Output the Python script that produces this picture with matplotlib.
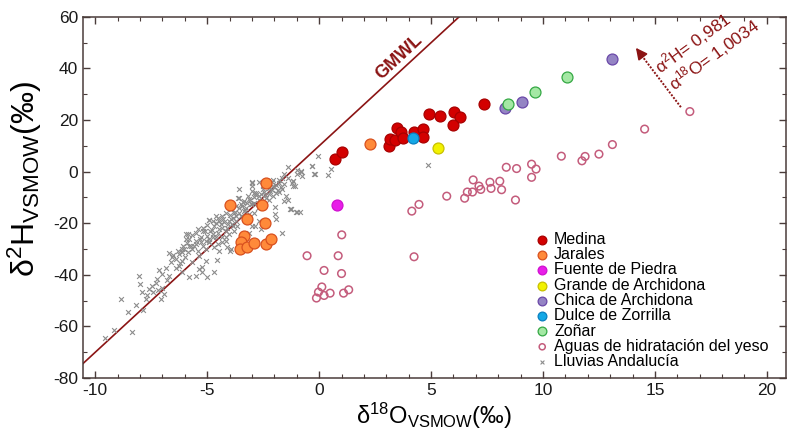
import numpy as np
import matplotlib
matplotlib.use("Agg")
import matplotlib.pyplot as plt
from matplotlib.ticker import MultipleLocator

plt.rcParams['font.family'] = ['Liberation Sans', 'DejaVu Sans']
plt.rcParams['mathtext.fontset'] = 'custom'
plt.rcParams['mathtext.rm'] = 'Liberation Sans'
plt.rcParams['mathtext.it'] = 'Liberation Sans:italic'
plt.rcParams['axes.unicode_minus'] = False

# delta18O, delta2H for each group
medina_x = [0.73, 1.03, 3.11, 3.16, 3.39, 3.47, 3.66, 3.75, 4.24, 4.64, 4.66,
            4.93, 5.39, 6.01, 6.29, 6.00, 7.38]
medina_y = [4.9, 7.7, 10.0, 12.7, 12.3, 16.8, 15.3, 13.2, 15.4, 16.5, 13.3,
            22.3, 21.7, 23.3, 21.3, 18.1, 26.4]

jarales_x = [2.26, -2.38, -3.96, -2.56, -3.24, -2.40, -3.36, -3.47, -3.54,
             -3.21, -2.90, -2.37, -2.13]
jarales_y = [10.6, -4.5, -13.1, -12.8, -18.5, -19.9, -24.9, -27.4, -30.0,
             -29.2, -27.8, -28.2, -26.3]

fuente_x = [0.82]
fuente_y = [-12.8]

grande_x = [5.33]
grande_y = [9.0]

chica_x = [8.29, 9.06, 13.1]
chica_y = [24.5, 26.9, 43.8]

dulce_x = [4.18]
dulce_y = [13.2]

zonar_x = [8.44, 9.66, 11.09]
zonar_y = [26.3, 31.0, 36.7]

yeso_x = [1.01, -0.54, 0.85, 0.22, 1.00, 0.12, -0.03, -0.12, 0.22, 0.49, 1.09,
          1.32, 4.14, 4.46, 4.24, 5.70, 6.50, 6.62, 6.88, 6.85, 7.14, 7.22,
          7.63, 7.68, 8.07, 8.15, 8.36, 8.82, 8.77, 9.49, 9.69, 9.49, 10.82,
          11.74, 11.88, 12.50, 13.10, 14.54, 16.56]
yeso_y = [-24.5, -32.6, -32.6, -38.3, -39.5, -44.7, -46.7, -49.0, -48.0, -47.1,
          -47.1, -45.8, -15.3, -12.7, -33.0, -9.5, -10.3, -7.9, -3.2, -7.9,
          -5.6, -6.9, -4.1, -6.5, -3.7, -7.0, 1.7, 1.2, -11.0, 2.9, 1.0, -2.2,
          6.0, 4.2, 5.9, 6.8, 10.5, 16.5, 23.3]

lluvia_x = [-0.07, -0.33, -0.19, 0.55, 0.40, -1.37, -0.97, -0.83, -0.78, -1.15,
            -1.07, -1.56, -1.64, -1.79, -1.93, -2.11, -2.26, -2.98, -2.68, -2.90,
            -2.80, -3.12, -3.24, -3.45, -3.60, -1.49, -1.37, -1.56, -1.29, -1.04,
            -0.86, -1.96, -1.96, -1.93, -1.85, -2.68, -2.98, -2.86, -2.61, -1.67,
            -3.12, -3.75, -3.87, -4.02, -4.24, -4.46, -4.61, -4.94, -4.69, -4.46,
            -4.88, -5.21, -5.28, -5.51, -5.88, -5.80, -5.73, -6.03, -6.13, -4.76,
            -4.32, -4.17, -3.94, -4.54, -4.91, -5.21, -5.43, -5.06, -4.46, -0.83,
            -0.34, -0.21, -2.99, -0.98, -1.27, -4.92, -3.61, -3.96, -4.55, -4.70,
            -4.99, -5.37, -5.67, -5.81, -5.96, -6.71, -6.56, -6.26, -6.11, -6.41,
            -6.86, -7.00, -7.15, -6.71, -7.23, -7.45, -7.18, -7.00, -6.93, -7.08,
            -7.43, -7.68, -7.75, -7.90, -8.05, -8.00, -8.20, -8.56, -8.84, -9.17,
            -9.57, -8.35, -7.86, -6.64, -6.26, -6.11, -5.81, -5.22, -5.52, -6.11,
            -5.37, -5.07, -4.92, -4.70, -4.32, -4.17, -4.10, -5.25, 4.87, -1.16,
            -1.16, -1.26, -2.98, -2.83, -2.60, -2.46, -2.23, -2.08, -1.93, -1.79,
            -2.38, -2.68, -2.90, -3.05, -3.27, -3.35, -3.57, -3.72, -3.50, -3.94,
            -4.09, -4.32, -4.17, -4.54, -4.76, -4.99, -5.06, -5.28, -5.51, -5.66,
            -5.88, -4.61, -4.02, -3.80, -3.65, -3.87, -3.12, -2.90, -2.75, -2.53,
            -2.23, -2.08, -3.20, -3.35, -3.50, -3.72, -3.94, -4.17, -4.32, -4.54,
            -4.76, -4.99, -5.21, -5.43, -5.66, -5.95, -6.10, -6.32, -6.55, -3.57,
            -2.98, -2.53, -2.31, -2.08, -1.64, -1.56,
            -2.70, -2.50, -2.40, -2.20, -2.00, -1.80, -3.00, -3.10, -3.30, -3.40,
            -3.60, -3.80, -4.00, -4.10, -4.30, -4.40, -4.60, -4.80, -4.90, -5.10,
            -5.30, -5.50, -5.60, -5.90, -6.00, -6.20, -6.40, -6.80, -7.30, -7.60,
            -3.90, -3.70, -3.30, -2.90, -2.60, -2.10, -1.70, -1.40, -1.20, -1.00]
lluvia_y = [6.2, 2.3, -0.8, 1.0, -1.3, 1.8, 0.8, -0.3, -1.8, -3.7,
            -5.4, -4.7, -6.7, -3.3, -8.2, -7.2, -8.5, -4.4, -4.1, -8.2,
            -9.2, -10.5, -12.0, -13.3, -10.1, -9.5, -10.8, -11.4, -14.4, -15.6,
            -15.6, -13.6, -16.5, -18.2, -7.2, -19.1, -21.0, -21.0, -22.3, -23.6,
            -23.6, -15.6, -17.8, -19.1, -19.7, -19.1, -17.2, -18.7, -21.0, -22.3,
            -23.0, -23.0, -25.5, -23.6, -24.2, -26.2, -28.7, -30.0, -31.3, -25.5,
            -25.5, -26.8, -30.0, -28.1, -27.4, -28.7, -30.6, -30.0, -30.6, 0.1,
            2.3, -0.8, -4.1, -15.6, -14.4, -18.8, -10.1, -30.6, -34.1, -39.0,
            -40.9, -37.8, -35.1, -28.7, -24.2, -31.6, -33.2, -32.0, -34.5, -37.5,
            -37.5, -39.6, -38.3, -40.3, -41.5, -44.4, -46.0, -45.1, -47.3, -49.5,
            -46.7, -47.9, -49.2, -46.7, -40.3, -43.5, -51.8, -54.4, -49.5, -61.4,
            -64.4, -62.3, -53.7, -35.1, -36.4, -39.0, -40.9, -39.0, -40.3, -29.9,
            -32.6, -34.5, -27.4, -29.4, -27.4, -25.5, -29.4, -37.0, 2.4, -3.7,
            -5.6, -14.6, -7.6, -8.2, -8.8, -7.9, -6.3, -5.6, -5.0, -4.4,
            -10.1, -10.8, -12.0, -12.7, -13.9, -15.3, -15.9, -17.2, -17.2, -18.5,
            -20.4, -21.7, -23.0, -23.6, -24.2, -24.9, -26.8, -27.4, -28.1, -30.0,
            -31.3, -25.5, -24.2, -23.0, -21.0, -21.0, -16.5, -15.9, -13.9, -12.7,
            -10.8, -9.5, -9.5, -11.4, -12.7, -13.3, -14.6, -15.9, -17.2, -17.8,
            -19.1, -20.8, -21.7, -22.3, -24.6, -26.2, -28.7, -30.6, -32.3, -6.9,
            -5.6, -5.6, -3.7, -3.1, -2.4, -1.1,
            -9.5, -6.8, -9.0, -7.5, -6.0, -7.9, -12.4, -11.0, -14.8, -11.8,
            -14.0, -16.2, -16.8, -22.0, -18.3, -20.2, -20.0, -22.5, -26.0, -22.9,
            -26.3, -26.9, -29.0, -27.8, -33.0, -35.5, -33.8, -42.0, -43.0, -45.5,
            -20.1, -19.2, -17.9, -10.0, -11.2, -4.0, -6.0, -2.5, -4.5, -1.0]

# Global Meteoric Water Line: d2H = 8 d18O + 10
gmwl_slope = 8.0
gmwl_intercept = 10.0

dark_red = '#8b1414'

fig = plt.figure(figsize=(7.88, 4.33), dpi=100)
ax = fig.add_axes([0.1053, 0.127, 0.892, 0.834])

xlim = (-10.55, 20.85)
ylim = (-80, 60)

gx = np.array(xlim)
ax.plot(gx, gmwl_slope * gx + gmwl_intercept, color=dark_red, lw=1.2, zorder=2)

ax.scatter(lluvia_x, lluvia_y, marker='x', s=12, color='#8c8c8c', linewidths=0.8,
           zorder=3, label='Lluvias Andalucía')
ax.scatter(yeso_x, yeso_y, marker='o', s=30, facecolors='none',
           edgecolors='#c45c7c', linewidths=1.1, zorder=3,
           label='Aguas de hidratación del yeso')

groups = [
    (medina_x, medina_y, '#d30000', '#a80000', 'Medina'),
    (jarales_x, jarales_y, '#ff8a3a', '#d8501e', 'Jarales'),
    (fuente_x, fuente_y, '#e81ee8', '#d010d0', 'Fuente de Piedra'),
    (grande_x, grande_y, '#f2f200', '#c8c000', 'Grande de Archidona'),
    (chica_x, chica_y, '#9484c4', '#6a48a8', 'Chica de Archidona'),
    (dulce_x, dulce_y, '#14a8e6', '#0a80c0', 'Dulce de Zorrilla'),
    (zonar_x, zonar_y, '#a4e8a4', '#34a844', 'Zoñar'),
]
for gxs, gys, fc, ec, name in groups:
    ax.scatter(gxs, gys, s=62, facecolors=fc, edgecolors=ec,
               linewidths=0.9, zorder=4, label=name)

order = ['Medina', 'Jarales', 'Fuente de Piedra', 'Grande de Archidona',
         'Chica de Archidona', 'Dulce de Zorrilla', 'Zoñar',
         'Aguas de hidratación del yeso', 'Lluvias Andalucía']
h, l = ax.get_legend_handles_labels()
lookup = dict(zip(l, h))
leg = ax.legend([lookup[k] for k in order], order, loc='upper left',
                bbox_to_anchor=(0.642, 0.405), frameon=False, fontsize=11.5,
                handletextpad=0.25, labelspacing=0.02, handlelength=1.0,
                borderaxespad=0.0, borderpad=0.0, markerscale=0.8)

ax.text(3.57, 44.2, 'GMWL', color=dark_red, fontsize=13, fontweight='bold',
        rotation=43, ha='center', va='center')

# fractionation arrow
ax.plot([16.16, 14.35], [25, 45.7], color=dark_red, lw=1.4,
        linestyle=(0, (1, 0.8)), zorder=3)
ax.annotate('', xy=(14.15, 48), xytext=(14.45, 44.6),
            arrowprops=dict(arrowstyle='-|>', color=dark_red, lw=1.2,
                            mutation_scale=17, shrinkA=0, shrinkB=0))
ax.text(15.25, 37.8, r'α$^{2}$H= 0,981', color=dark_red, fontsize=12.5,
        rotation=36, rotation_mode='anchor', ha='left', va='baseline')
ax.text(15.85, 31.2, r'α$^{18}$O= 1,0034', color=dark_red, fontsize=12.5,
        rotation=36, rotation_mode='anchor', ha='left', va='baseline')

ax.set_xlim(*xlim)
ax.set_ylim(*ylim)
ax.xaxis.set_major_locator(MultipleLocator(5))
ax.xaxis.set_minor_locator(MultipleLocator(1))
ax.yaxis.set_major_locator(MultipleLocator(20))
ax.yaxis.set_minor_locator(MultipleLocator(10))
ax.tick_params(which='both', direction='in', top=True, right=True,
               color='#4a3c3a', labelsize=12.5, labelcolor='#1a1a1a')
ax.tick_params(which='major', length=5, width=1)
ax.tick_params(which='minor', length=3, width=0.8)
for sp in ax.spines.values():
    sp.set_color('#4a3c3a')
    sp.set_linewidth(1.1)

ax.set_xlabel(r'δ$^{18}$O$_{\mathrm{VSMOW}}$(‰)', fontsize=17, labelpad=2)
ax.set_ylabel(r'δ$^{2}$H$_{\mathrm{VSMOW}}$(‰)', fontsize=23)
ax.yaxis.set_label_coords(-0.055, 0.55)

fig.savefig('out.png', dpi=100)
